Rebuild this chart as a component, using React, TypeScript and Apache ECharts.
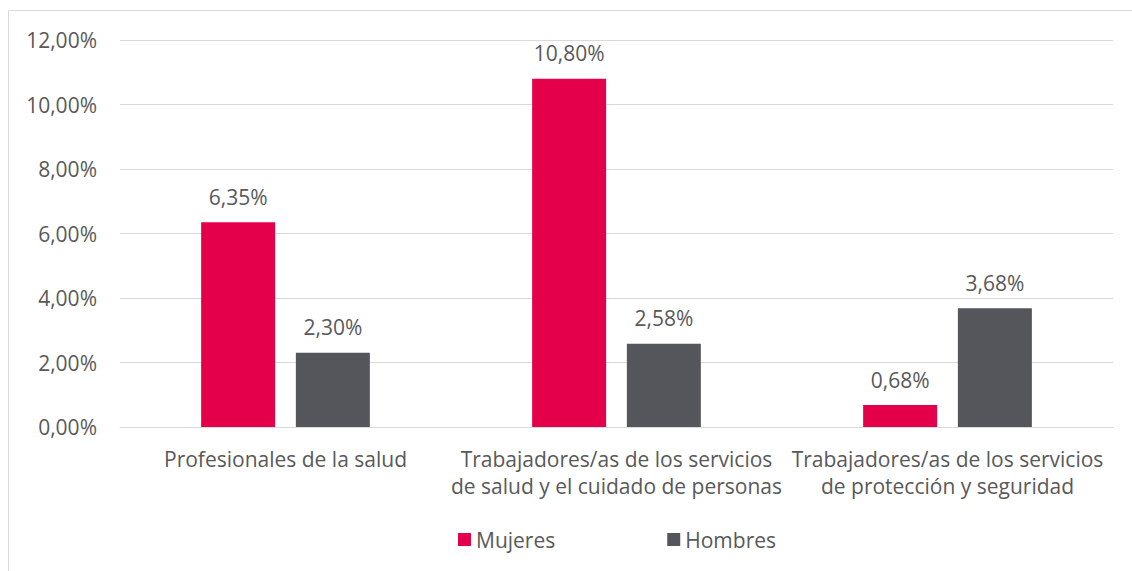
import React, { useEffect, useRef } from "react";
import * as echarts from "echarts";

const categories = [
  "Profesionales de la salud",
  "Trabajadores/as de los servicios\nde salud y el cuidado de personas",
  "Trabajadores/as de los servicios\nde protección y seguridad",
];
const mujeres = [6.35, 10.8, 0.68];
const hombres = [2.3, 2.58, 3.68];
const seriesNames = ["Mujeres", "Hombres"];
const colors = ["#E4004B", "#55565B"];

const fmt = (v: number) => v.toFixed(2).replace(".", ",") + "%";
const FONT = "'Open Sans', sans-serif";
const TXT = "#595959";
const FS = 21;

export default function App() {
  const ref = useRef<HTMLDivElement>(null);
  useEffect(() => {
    const chart = echarts.init(ref.current!, null, { renderer: "svg" });
    const label = {
      show: true,
      position: "top",
      distance: 15,
      fontFamily: FONT,
      fontSize: FS,
      color: TXT,
      formatter: (p: any) => fmt(p.value),
    };
    chart.setOption({
      animation: false,
      backgroundColor: "#ffffff",
      textStyle: { fontFamily: FONT, color: TXT },
      graphic: [
        {
          type: "rect",
          shape: { x: 8.5, y: 10.5, width: 1130, height: 570 },
          style: { fill: "none", stroke: "#D9D9D9", lineWidth: 1 },
          silent: true,
        },
      ],
      grid: { left: 120, right: 19, top: 40, bottom: 144, containLabel: false },
      legend: {
        data: seriesNames,
        bottom: 16,
        left: 453,
        itemWidth: 13,
        itemHeight: 13,
        itemGap: 112,
        icon: "rect",
        textStyle: { fontFamily: FONT, fontSize: FS, color: TXT },
      },
      xAxis: {
        type: "category",
        data: categories,
        axisLine: { show: true, lineStyle: { color: "#D9D9D9" } },
        axisTick: { show: false },
        axisLabel: {
          fontFamily: FONT,
          fontSize: FS,
          color: TXT,
          lineHeight: 27,
          margin: 18,
          interval: 0,
        },
      },
      yAxis: {
        type: "value",
        min: 0,
        max: 12,
        interval: 2,
        axisLine: { show: false },
        axisTick: { show: false },
        splitLine: { lineStyle: { color: "#D9D9D9", width: 1 } },
        axisLabel: {
          fontFamily: FONT,
          fontSize: FS,
          color: TXT,
          margin: 23,
          formatter: (v: number) => fmt(v),
        },
      },
      series: [
        {
          name: seriesNames[0],
          type: "bar",
          data: mujeres,
          barWidth: 74,
          barGap: "28%",
          itemStyle: { color: colors[0] },
          label,
        },
        {
          name: seriesNames[1],
          type: "bar",
          data: hombres,
          barWidth: 74,
          barGap: "28%",
          itemStyle: { color: colors[1] },
          label,
        },
      ],
    });
    return () => chart.dispose();
  }, []);
  return (
    <div
      ref={ref}
      style={{ position: "absolute", left: 0, top: 0, width: 1132, height: 571 }}
    />
  );
}
